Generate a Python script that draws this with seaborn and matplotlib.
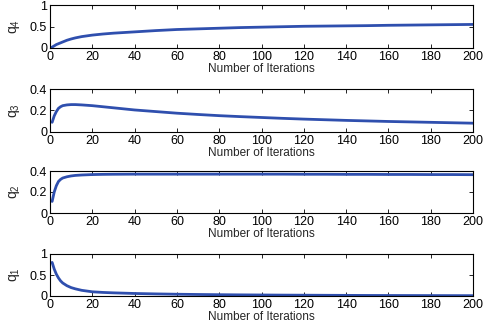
import numpy as np
import pandas as pd
import matplotlib
matplotlib.use("Agg")
import matplotlib.pyplot as plt
import seaborn as sns

iterations = [0, 1, 2, 3, 4, 5, 6, 8, 10, 12, 15, 20, 25, 30, 40, 50, 60, 70, 80, 90,
              100, 110, 120, 130, 140, 150, 160, 170, 180, 190, 200]
q4 = [0.0, 0.02, 0.05, 0.08, 0.10, 0.12, 0.14, 0.18, 0.21, 0.235, 0.265, 0.30, 0.325, 0.345,
      0.375, 0.405, 0.43, 0.445, 0.46, 0.475, 0.485, 0.495, 0.505, 0.51, 0.515, 0.52, 0.528,
      0.533, 0.538, 0.543, 0.548]
q3_it = iterations[1:]
q3 = [0.09, 0.15, 0.19, 0.22, 0.235, 0.245, 0.252, 0.255, 0.255, 0.252, 0.245, 0.235, 0.225,
      0.205, 0.19, 0.175, 0.163, 0.152, 0.143, 0.135, 0.127, 0.12, 0.114, 0.108, 0.103, 0.098,
      0.094, 0.09, 0.086, 0.082]
q2 = [0.11, 0.20, 0.26, 0.30, 0.32, 0.333, 0.345, 0.353, 0.358, 0.362, 0.366, 0.368, 0.369,
      0.37, 0.37, 0.37, 0.37, 0.37, 0.37, 0.37, 0.37, 0.369, 0.369, 0.368, 0.368, 0.367,
      0.367, 0.366, 0.366, 0.365]
q1 = [0.80, 0.64, 0.52, 0.43, 0.36, 0.31, 0.245, 0.20, 0.17, 0.135, 0.10, 0.085, 0.075,
      0.06, 0.05, 0.042, 0.036, 0.031, 0.027, 0.024, 0.021, 0.019, 0.017, 0.015, 0.013,
      0.012, 0.011, 0.010, 0.009, 0.008]

panels = [
    ("$q_4$", iterations, q4, [0, 1], [0, 0.5, 1], ["0", "0.5", "1"]),
    ("$q_3$", q3_it, q3, [0, 0.4], [0, 0.2, 0.4], ["0", "0.2", "0.4"]),
    ("$q_2$", q3_it, q2, [0, 0.4], [0, 0.2, 0.4], ["0", "0.2", "0.4"]),
    ("$q_1$", q3_it, q1, [0, 1], [0, 0.5, 1], ["0", "0.5", "1"]),
]
xticks = list(range(0, 201, 20))

sns.set_theme(style="ticks")
plt.rcParams["font.family"] = ["Liberation Sans", "DejaVu Sans"]
plt.rcParams["mathtext.fontset"] = "custom"
plt.rcParams["mathtext.rm"] = "Liberation Sans"
plt.rcParams["mathtext.it"] = "Liberation Sans"

fig = plt.figure(figsize=(4.87, 3.33), dpi=100)
W, H = 487, 333
tops = [5, 89, 171, 254]
bots = [48, 132, 213, 296]
left, right = 50, 473
color = "#2f4fae"
for (lab, xs, ys, ylim, yt, ytl), t, b in zip(panels, tops, bots):
    ax = fig.add_axes([left / W, 1 - b / H, (right - left) / W, (b - t) / H])
    df = pd.DataFrame({"it": xs, "q": ys})
    sns.lineplot(data=df, x="it", y="q", ax=ax, color=color, linewidth=2)
    ax.set_xlim(0, 200)
    ax.set_ylim(*ylim)
    ax.set_xticks(xticks)
    ax.set_xticklabels([str(v) for v in xticks], fontsize=9)
    ax.set_yticks(yt)
    ax.set_yticklabels(ytl, fontsize=9)
    ax.tick_params(direction="in", top=True, right=True, length=3, width=0.6, pad=2,
                   colors="black")
    for s in ax.spines.values():
        s.set_visible(True)
        s.set_linewidth(0.8)
        s.set_color("black")
    ax.set_xlabel("Number of Iterations", fontsize=8.5, labelpad=0)
    ax.set_ylabel(lab, fontsize=10, labelpad=6)

fig.savefig("out.png", dpi=100)
